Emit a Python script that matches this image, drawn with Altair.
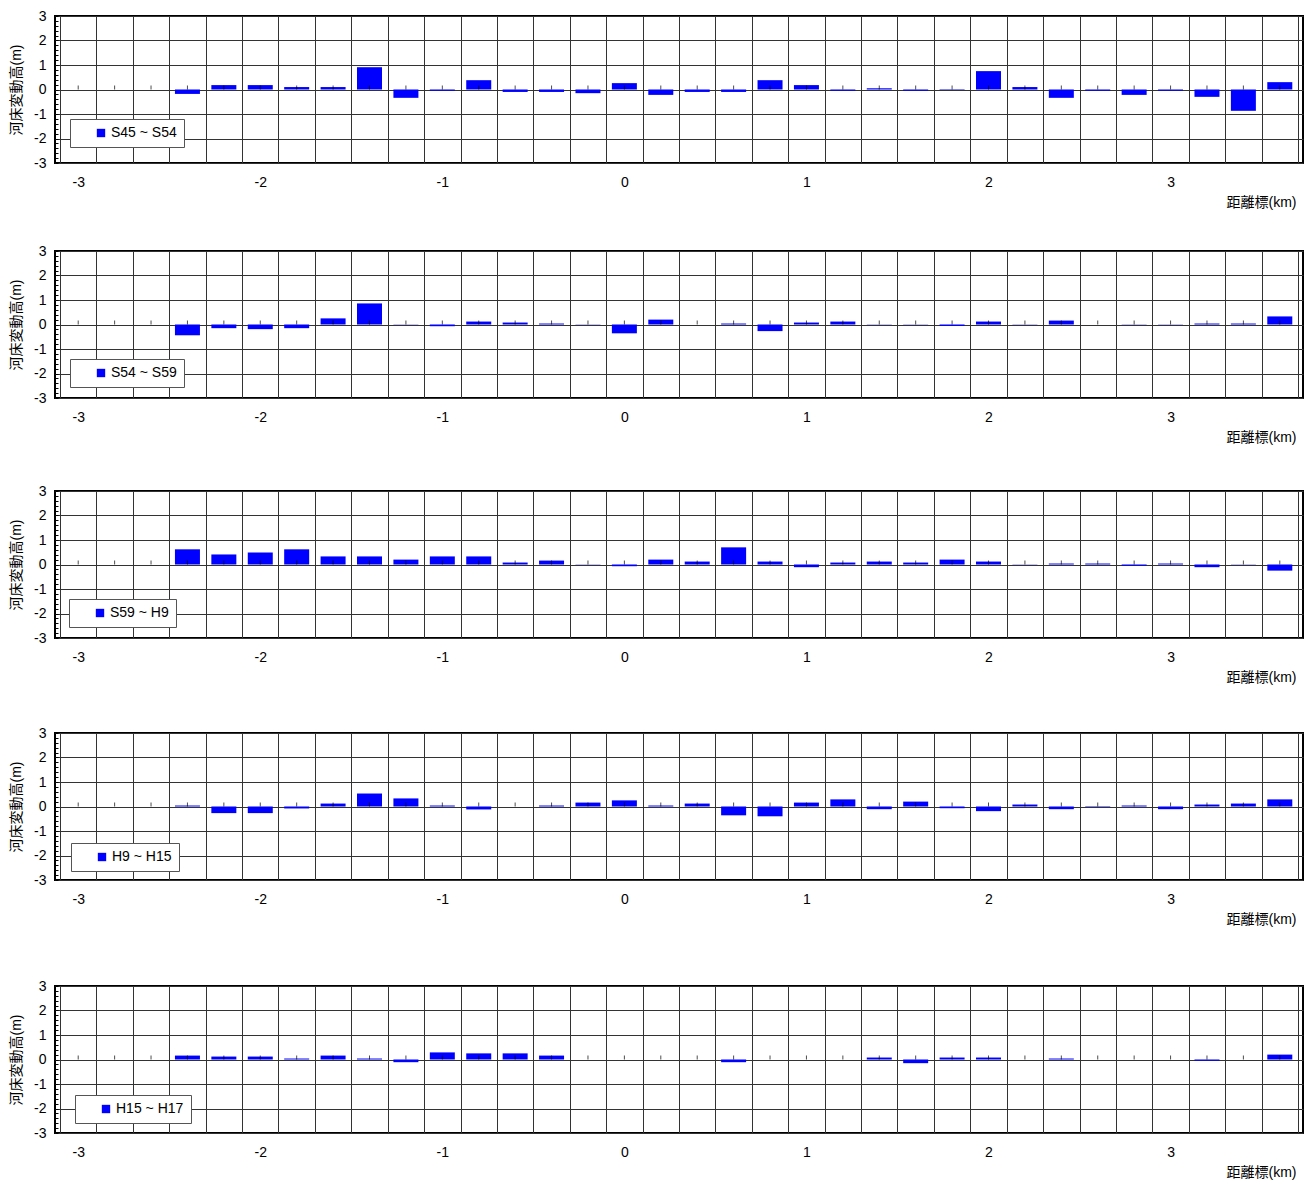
import altair as alt
import pandas as pd

# distance markers (km), one bar per marker
km = [-3.0, -2.8, -2.6, -2.4, -2.2, -2.0, -1.8, -1.6, -1.4, -1.2, -1.0, -0.8,
      -0.6, -0.4, -0.2, 0.0, 0.2, 0.4, 0.6, 0.8, 1.0, 1.2, 1.4, 1.6, 1.8,
      2.0, 2.2, 2.4, 2.6, 2.8, 3.0, 3.2, 3.4, 3.6]

series_names = ["S45 ~ S54", "S54 ~ S59", "S59 ~ H9", "H9 ~ H15", "H15 ~ H17"]

s45_s54 = [None, None, None, -0.18, 0.18, 0.18, 0.10, 0.10, 0.91, -0.34, -0.05, 0.38,
           -0.10, -0.10, -0.15, 0.26, -0.22, -0.10, -0.10, 0.38, 0.18, -0.05, 0.05, -0.05,
           -0.02, 0.75, 0.10, -0.34, -0.05, -0.22, -0.05, -0.30, -0.87, 0.30]
s54_s59 = [None, None, None, -0.44, -0.15, -0.19, -0.15, 0.25, 0.86, 0.01, -0.07, 0.12,
           0.08, 0.04, 0.01, -0.36, 0.20, 0.00, 0.04, -0.27, 0.08, 0.12, 0.01, 0.01,
           -0.06, 0.12, 0.01, 0.16, 0.00, 0.01, 0.01, 0.04, 0.04, 0.33]
s59_h9 = [None, None, None, 0.62, 0.41, 0.49, 0.62, 0.33, 0.33, 0.20, 0.33, 0.33,
          0.08, 0.16, -0.01, -0.07, 0.20, 0.12, 0.70, 0.12, -0.11, 0.08, 0.12, 0.08,
          0.20, 0.12, 0.01, 0.04, 0.04, -0.05, 0.04, -0.11, -0.01, -0.25]
h9_h15 = [None, None, None, 0.04, -0.27, -0.27, -0.08, 0.12, 0.53, 0.33, 0.04, -0.12,
          0.00, 0.04, 0.16, 0.25, 0.04, 0.12, -0.36, -0.40, 0.16, 0.29, -0.11, 0.20,
          -0.07, -0.19, 0.08, -0.11, -0.02, 0.04, -0.11, 0.08, 0.12, 0.29]
h15_h17 = [None, None, None, 0.16, 0.12, 0.12, 0.04, 0.16, 0.04, -0.11, 0.29, 0.25,
           0.25, 0.16, 0.00, 0.00, 0.00, 0.00, -0.11, 0.00, 0.00, 0.00, 0.08, -0.15,
           0.08, 0.08, 0.00, 0.04, 0.00, 0.00, 0.00, -0.05, 0.00, 0.20]

all_values = [s45_s54, s54_s59, s59_h9, h9_h15, h15_h17]

y_ticks = [round(-3 + 0.2 * i, 1) for i in range(31)]
x_label_ticks = [-3, -2, -1, 0, 1, 2, 3]
x_bounds = [round(k - 0.1, 1) for k in km] + [round(km[-1] + 0.1, 1)]

FONT = "Liberation Sans Narrow, Arial Narrow, Liberation Sans, Noto Sans CJK JP, sans-serif"
BLUE = "#0000ff"
GRID = "#333333"
IS_INT = "abs(datum.value - round(datum.value)) < 0.001"
NOT_INT = "abs(datum.value - round(datum.value)) > 0.001"
FS = 14

W, H = 1248, 147
legend_pos = [(15, 103), (15, 108), (14, 108), (16, 110), (20, 109)]

XAXIS = alt.Axis(
    values=x_bounds + x_label_ticks,
    labelExpr=f"{IS_INT} ? '' + round(datum.value) : ''",
    labelOverlap=False, labelFlush=False,
    labelFont=FONT, labelFontSize=FS, labelColor="black", labelPadding=12,
    grid=True, gridColor=GRID, gridWidth=1,
    gridOpacity={"condition": {"test": NOT_INT, "value": 1}, "value": 0},
    ticks=False, tickSize=0, domain=False,
    title="距離標(km)", titleFont=FONT, titleFontSize=FS, titleFontWeight="normal",
    titleColor="black", titleAlign="right", titleAnchor="end",
    titleX=W - 7, titleY=39, titleBaseline="middle",
)
YAXIS = alt.Axis(
    values=y_ticks,
    labelExpr=f"{IS_INT} ? '' + round(datum.value) : ''",
    labelOverlap=False, labelFlush=False,
    labelFont=FONT, labelFontSize=FS, labelColor="black", labelPadding=9,
    grid=True, gridColor=GRID, gridWidth=1,
    gridOpacity={"condition": {"test": IS_INT, "value": 1}, "value": 0},
    ticks=True, tickSize=3, tickColor="black", tickWidth=1,
    domain=False, offset=-3,
    title="河床変動高(m)", titleFont=FONT, titleFontSize=FS, titleFontWeight="normal",
    titleColor="black", titlePadding=10,
)
XSCALE = alt.Scale(domain=[-3.1, 3.7], nice=False, zero=False)
YSCALE = alt.Scale(domain=[-3, 3], nice=False)


def panel(vals, name, lpos):
    df = pd.DataFrame({"km": km, "value": vals, "series": name, "zero": 0.0})
    bars = alt.Chart(df).mark_bar(size=25).encode(
        x=alt.X("km:Q", scale=XSCALE, axis=XAXIS),
        y=alt.Y("value:Q", scale=YSCALE, axis=YAXIS),
        color=alt.Color(
            "series:N",
            scale=alt.Scale(domain=[name], range=[BLUE]),
            legend=alt.Legend(
                title=None, orient="none", legendX=lpos[0], legendY=lpos[1],
                fillColor="white", strokeColor="#555555",
                padding=7, symbolType="square", symbolSize=70, symbolStrokeWidth=0,
                symbolOffset=17, labelOffset=3, labelFont=FONT, labelFontSize=FS,
                labelColor="black", labelExpr="datum.label + '\u2002\u2002\u2002'",
            ),
        ),
    )
    zero_ticks = alt.Chart(df).mark_tick(
        orient="vertical", size=4, thickness=1, color="black", yOffset=-2
    ).encode(
        x=alt.X("km:Q", scale=XSCALE, axis=XAXIS),
        y=alt.Y("zero:Q", scale=YSCALE, axis=YAXIS),
    )
    return alt.layer(bars, zero_ticks).properties(width=W, height=H)


panels = [panel(v, n, p) for v, n, p in zip(all_values, series_names, legend_pos)]

inner4 = alt.vconcat(panels[3], panels[4], spacing=51).resolve_scale(color="independent").resolve_legend(color="independent")
inner3 = alt.vconcat(panels[2], inner4, spacing=40).resolve_scale(color="independent").resolve_legend(color="independent")
inner2 = alt.vconcat(panels[1], inner3, spacing=38).resolve_scale(color="independent").resolve_legend(color="independent")
chart = alt.vconcat(panels[0], inner2, spacing=33).resolve_scale(
    color="independent").resolve_legend(color="independent").properties(
    padding=0, background="white"
).configure_view(stroke="black", strokeWidth=2).configure_legend(strokeWidth=1)

chart.save("out.html", embed_options={"renderer": "svg", "actions": False})
